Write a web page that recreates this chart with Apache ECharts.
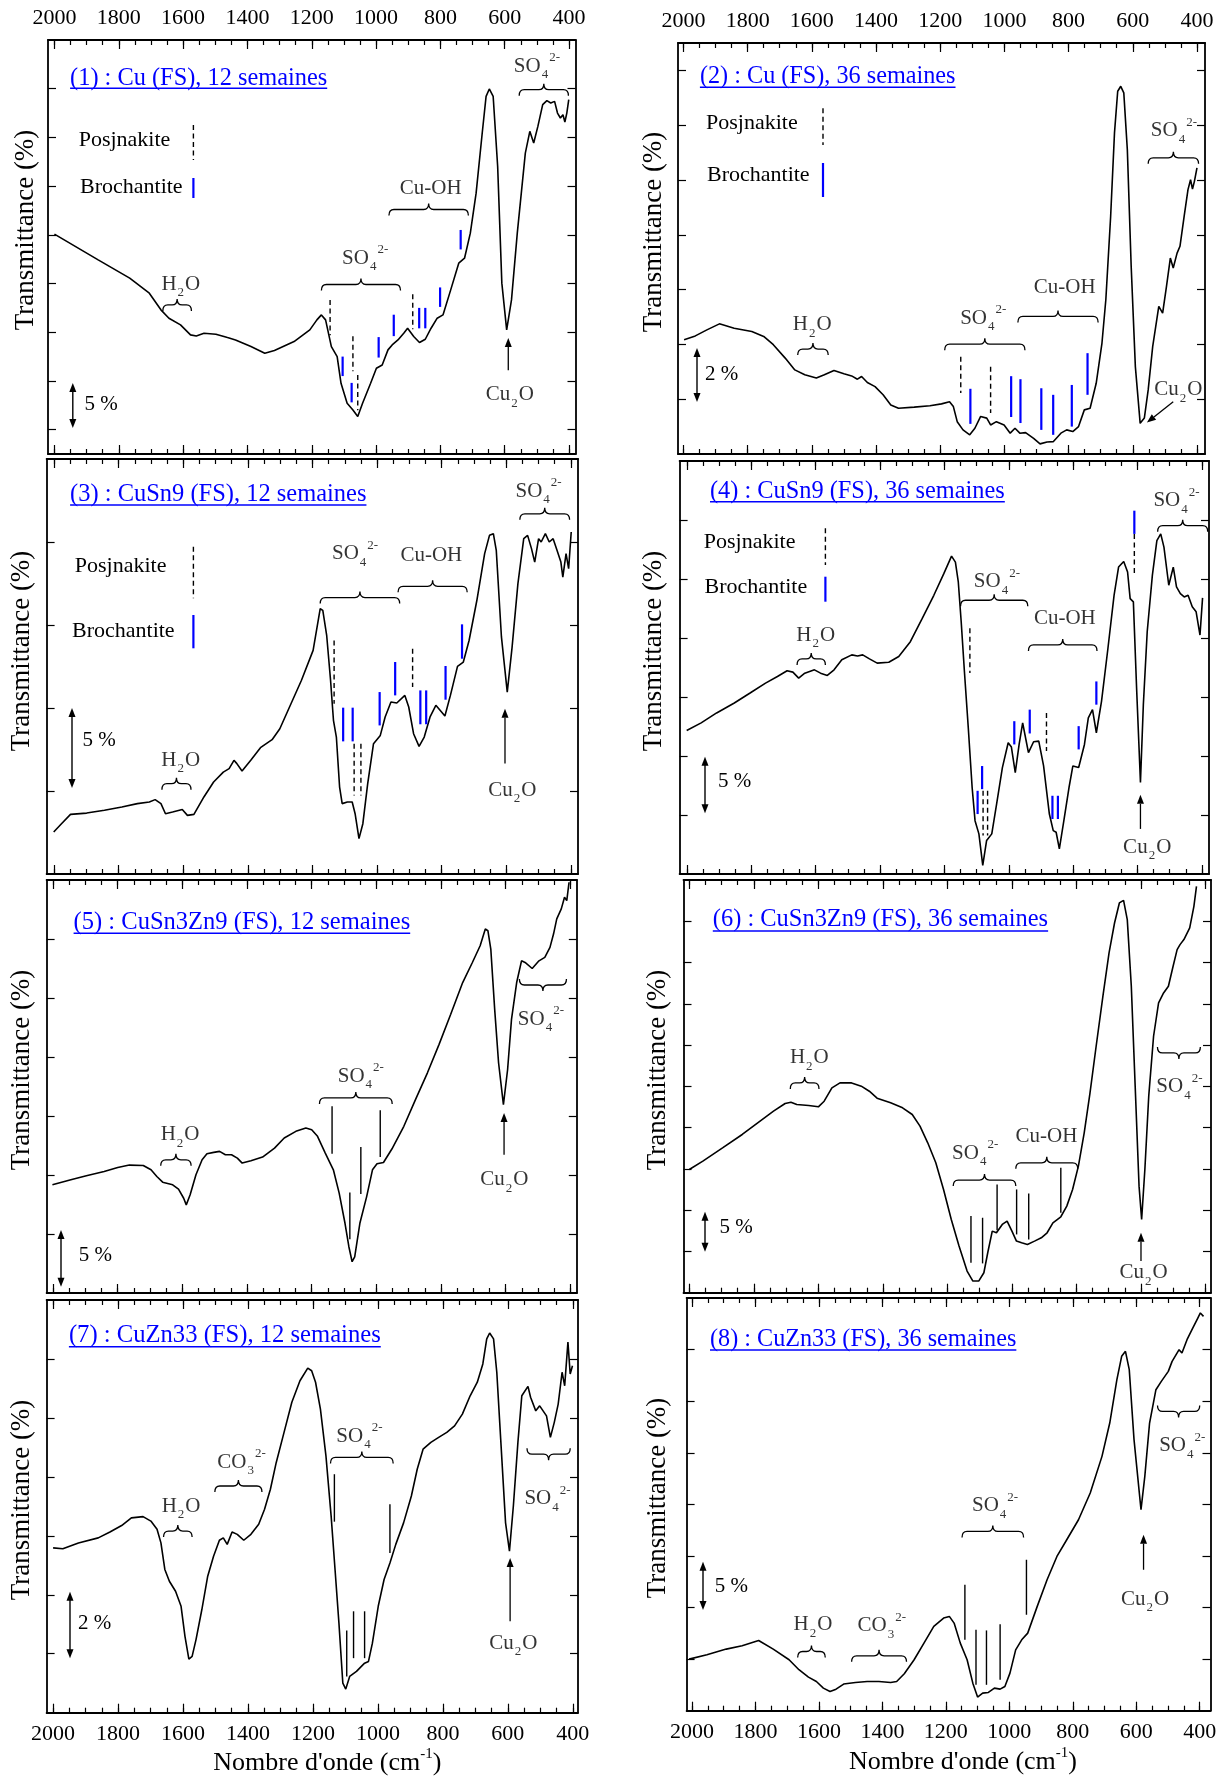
<!DOCTYPE html>
<html>
<head>
<meta charset="utf-8">
<script src="https://cdn.jsdelivr.net/npm/echarts@6/dist/echarts.min.js"></script>
<style>
html, body { margin: 0; padding: 0; background: #fff; }
#main { width: 1231px; height: 1778px; }
</style>
</head>
<body>
<div id="main"></div>
<script>
// wavenumber ticks (cm-1)
var wnMajor = [2000, 1800, 1600, 1400, 1200, 1000, 800, 600, 400];
var wnMinor = [2000, 1950, 1900, 1850, 1800, 1750, 1700, 1650, 1600, 1550, 1500, 1450, 1400, 1350, 1300, 1250, 1200,
	1150, 1100, 1050, 1000, 950, 900, 850, 800, 750, 700, 650, 600, 550, 500, 450, 400];

// (1) Cu (FS), 12 semaines  -- [wavenumber, transmittance %]
var p1Curve = [[2000,20.07],[1864,17.43],[1766,15.55],[1705,14.01],[1669,12.30],[1644,11.44],[1608,10.75],[1577,9.73],[1559,9.62],
	[1535,9.90],[1498,9.80],[1462,9.45],[1437,9.21],[1389,8.53],[1346,7.84],[1316,8.12],[1255,9.04],[1206,10.24],[1184,11.27],
	[1170,11.78],[1157,11.27],[1139,8.53],[1121,7.50],[1109,4.76],[1090,2.71],[1072,2.02],[1057,1.34],[1042,2.71],[1017,4.76],
	[999,6.30],[981,6.64],[963,8.19],[950,8.70],[932,9.21],[914,9.90],[902,10.41],[883,9.56],[865,8.94],[847,9.28],[829,10.41],
	[810,11.44],[792,11.78],[768,14.35],[743,17.09],[725,17.60],[707,20.17],[689,24.28],[670,30.45],[658,34.22],[648,34.97],
	[636,34.22],[622,27.02],[609,15.04],[594,10.24],[579,13.32],[561,20.17],[536,28.39],[522,30.62],[510,29.42],[497,31.13],
	[482,33.36],[469,33.77],[457,33.53],[445,33.70],[436,32.50],[427,31.99],[419,32.33],[413,31.58],[407,32.50],[401,33.87]];
var p1Posj = [[1143,13.3,9.7],[1072,9.6,6.0],[1057,5.6,2.0],[886,13.9,10.3]];
var p1Broch = [[1104,7.5,5.5],[1076,4.8,2.8],[992,9.5,7.4],[945,11.8,9.6],[866,12.5,10.4],[847,12.5,10.4],[801,14.6,12.6],[737,20.5,18.5]];
var p1Braces = [[1663,1574,12.8,1],[1170,924,14.9,1],[960,713,22.6,1],[555,402,34.9,1]];
var p1Labels = [[1607,14.9,'H2O'],[1034,17.6,'SO4'],[830,24.8,'CuOH'],[500,37.3,'SO4'],[584,3.6,'Cu2O']];
var p1Arrows = [[589,6.1,589,9.4]];

// (2) Cu (FS), 36 semaines
var p2Curve = [[1998,2.17],[1963,2.31],[1927,2.53],[1888,2.75],[1842,2.59],[1787,2.47],[1750,2.29],[1720,1.99],[1683,1.50],
	[1653,1.07],[1622,0.89],[1586,0.77],[1561,0.89],[1531,1.05],[1500,0.93],[1476,0.85],[1458,0.73],[1445,0.83],[1427,0.61],
	[1403,0.46],[1378,0.16],[1354,-0.21],[1330,-0.33],[1281,-0.29],[1232,-0.24],[1196,-0.17],[1171,-0.09],[1159,-0.27],
	[1147,-0.82],[1129,-1.12],[1108,-1.30],[1092,-1.06],[1074,-0.63],[1055,-0.69],[1043,-0.94],[1025,-0.82],[1001,-0.94],
	[982,-1.24],[967,-1.06],[952,-1.24],[934,-1.22],[909,-1.43],[889,-1.63],[867,-1.56],[848,-1.55],[824,-1.24],[806,-1.12],
	[787,-1.18],[769,-1.00],[751,-0.39],[733,-0.33],[714,0.58],[696,2.05],[684,3.63],[669,6.67],[657,9.72],[647,11.24],
	[637.5,11.42],[628,11.18],[617,9.11],[605,4.85],[592,1.19],[577,-0.88],[564,-0.69],[552,0.34],[538,1.92],[519,3.39],
	[507,3.14],[495,4.12],[483,5.15],[474,4.79],[462,5.33],[453,5.58],[440,6.67],[428,7.65],[420,8.01],[414,7.67],[408,7.95],[400,8.44]];
var p2Posj = [[1136,1.55,0.23],[1043,1.18,-0.50]];
var p2Broch = [[1106,0.38,-0.90],[979,0.84,-0.65],[950,0.73,-0.87],[885,0.40,-1.12],[848,0.16,-1.30],[790,0.52,-1.00],[741,1.68,0.16]];
var p2Braces = [[1644,1549,1.83,1],[1186,936,2.01,1],[958,708,3.02,1],[552,395,8.81,1]];
var p2Labels = [[1599,2.72,'H2O'],[1066,2.96,'SO4'],[812,4.06,'CuOH'],[472,9.80,'SO4'],[458,0.34,'Cu2O']];
var p2Arrows = [[474,-0.09,556,-0.85]];

// (3) CuSn9 (FS), 12 semaines
var p3Curve = [[2001,-2.47],[1977,-1.97],[1949,-1.41],[1899,-1.33],[1844,-1.16],[1790,-0.96],[1742,-0.76],[1705,-0.66],
	[1687,-0.52],[1669,-0.76],[1655,-1.37],[1633,-1.27],[1603,-1.12],[1587,-1.47],[1567,-1.41],[1536,-0.36],[1506,0.54],
	[1476,1.14],[1458,1.35],[1443,1.85],[1434,1.65],[1418,1.20],[1391,1.85],[1361,2.61],[1325,3.09],[1301,3.75],[1271,5.06],
	[1234,6.67],[1198,8.47],[1176,10.98],[1168,10.88],[1156,9.38],[1144,6.67],[1135,4.26],[1126,3.25],[1116,0.24],[1108,-0.76],
	[1092,-0.66],[1077,-0.66],[1068,-1.37],[1056,-2.87],[1044,-1.97],[1029,0.44],[1011,2.85],[990,3.35],[975,4.46],[957,5.36],
	[939,5.30],[914,5.76],[902,5.06],[887,3.45],[870,2.69],[854,3.25],[836,4.46],[818,5.16],[790,4.52],[773,5.76],[751,7.51],
	[733,7.77],[715,9.08],[691,11.49],[667,14.30],[652,15.40],[640,15.50],[631,14.50],[615,9.28],[597,5.96],[582,8.67],
	[564,12.49],[546,15.20],[534,15.40],[522,14.60],[512,13.79],[500,15.20],[492,15.00],[479,15.50],[467,15.00],[455,15.20],
	[443,14.50],[431,13.79],[425,12.89],[415,14.30],[407,13.39],[399,15.60]];
var p3Posj = [[1133,9.07,5.26],[1071,2.85,-0.27],[1050,2.85,-0.27],[890,8.57,6.27]];
var p3Broch = [[1105,5.02,2.99],[1075.5,5.02,2.99],[992,5.96,3.95],[944,7.77,5.76],[866,6.06,4.02],[848,6.06,4.02],[788,7.53,5.50],[737,10.04,7.97]];
var p3Braces = [[1666,1576,0.44,1],[1176,930,11.65,1],[935,721,12.33,1],[558,404,16.7,1]];
var p3Labels = [[1608,1.85,'H2O'],[1068,14.3,'SO4'],[832,14.2,'CuOH'],[500,18.07,'SO4'],[581,0.04,'Cu2O']];
var p3Arrows = [[604,1.65,604,4.96]];

// (4) CuSn9 (FS), 36 semaines
var p4Curve = [[2001,7.16],[1956,7.81],[1908,8.65],[1853,9.49],[1804,10.34],[1756,11.18],[1719,11.74],[1689,12.22],[1671,12.11],
	[1653,11.60],[1634,12.02],[1604,12.30],[1585,12.02],[1564,11.83],[1543,12.30],[1519,13.15],[1488,13.57],[1470,13.48],
	[1454,13.57],[1433,13.23],[1409,12.87],[1373,12.95],[1342,13.43],[1306,14.69],[1269,16.66],[1233,18.62],[1202,20.45],
	[1178,21.94],[1166,21.43],[1157,19.75],[1148,16.38],[1138,12.16],[1126,7.39],[1114,2.33],[1105,-0.48],[1093,-1.60],
	[1081,-4.27],[1069,-2.16],[1053,-1.60],[1038,0.93],[1020,4.02],[1002,6.12],[992,5.76],[980,3.60],[968,5.98],[957,7.81],
	[947,6.40],[939,5.28],[923,6.21],[907,6.26],[892,4.16],[874,0.08],[862,-1.32],[853,-1.46],[843,-2.87],[829,-0.48],
	[813,2.33],[801,4.16],[783,4.02],[765,5.98],[753,8.23],[740,8.93],[728,6.97],[712,9.63],[692,14.13],[673,18.62],
	[659,21.01],[643,21.49],[631,20.59],[623,18.34],[613,18.06],[603,10.76],[591,2.75],[582,9.35],[570,15.53],[554,20.31],
	[540,23.26],[528,23.82],[518,22.70],[503,19.47],[489,21.01],[479,19.33],[467,18.76],[455,18.48],[443,18.62],[430,17.64],
	[418,17.22],[406,15.25],[398,18.40]];
var p4Posj = [[1121,15.82,12.03],[1080,2.05,-1.74],[1066,2.05,-1.74],[883,8.65,5.42],[610,23.82,20.31]];
var p4Broch = [[1097,2.05,0.08],[1083,4.15,2.19],[983,7.95,5.98],[935,8.93,6.91],[864.5,1.63,-0.34],[847.5,1.63,-0.34],
	[783,7.53,5.56],[728,11.32,9.35],[610,25.79,23.82]];
var p4Braces = [[1658,1570,13.23,1],[1150,941,18.2,1],[939,726,14.41,1],[537.5,382,24.52,1]];
var p4Labels = [[1600,15.25,'H2O'],[1037,19.75,'SO4'],[826,16.66,'CuOH'],[479,26.63,'SO4'],[570,-2.72,'Cu2O']];
var p4Arrows = [[591,-1.18,591,1.71]];

// (5) CuSn3Zn9 (FS), 12 semaines
var p5Curve = [[2002,4.17],[1945,4.59],[1897,4.93],[1842,5.30],[1800,5.64],[1764,5.84],[1721,5.81],[1697,5.44],[1679,4.87],
	[1661,4.39],[1630,4.17],[1612,3.80],[1596,3.03],[1588,2.47],[1576,3.32],[1558,5.02],[1539,6.29],[1524,6.80],[1503,6.92],
	[1485,7.00],[1467,6.72],[1448,6.72],[1430,6.43],[1415,6.01],[1388,6.21],[1352,6.52],[1315,7.28],[1285,8.13],[1249,8.70],
	[1218,8.98],[1200,8.84],[1182,8.28],[1158,6.86],[1133,5.44],[1115,3.46],[1097,0.91],[1085,-1.08],[1075,-2.35],[1067,-1.93],
	[1051,0.91],[1030,3.17],[1012,5.44],[998,5.95],[978,6.06],[952,7.20],[915,9.13],[879,11.39],[842,13.66],[806,16.07],
	[770,18.62],[733,21.31],[703,23.01],[679,24.43],[663,25.85],[655,25.70],[646,24.15],[634,19.04],[622,14.51],[607,10.97],
	[594,13.94],[582,18.19],[566,21.31],[551,23.15],[540,23.01],[518,22.50],[497,23.15],[479,23.44],[463,24.29],[452,25.42],
	[442,26.70],[428,27.55],[418,28.54],[411,28.25],[404,29.81]];
var p5Marks = [[1137,10.83,6.80],[1082,3.51,-0.45],[1048,7.37,3.40],[988,10.49,6.52]];
var p5Braces = [[1667,1573,6.29,1],[1176,951,11.53,1],[557.6,412,21.1,-1]];
var p5Labels = [[1607,8.42,'H2O'],[1048,13.38,'SO4'],[491,18.19,'SO4'],[604,4.59,'Cu2O']];
var p5Arrows = [[605,6.72,605,10.26]];

// (6) CuSn3Zn9 (FS), 36 semaines
var p6Curve = [[2000,9.93],[1958,10.94],[1897,12.55],[1836,14.17],[1788,15.58],[1739,16.99],[1703,17.92],[1685,18.08],
	[1667,17.80],[1630,17.68],[1600,17.52],[1582,18.20],[1558,19.82],[1533,20.42],[1497,20.42],[1467,20.02],[1442,19.41],
	[1418,18.57],[1376,18.00],[1339,17.40],[1309,16.59],[1285,15.18],[1261,13.16],[1236,10.74],[1212,7.51],[1188,3.87],
	[1164,0.65],[1139,-2.38],[1121,-3.59],[1103,-3.59],[1087,-2.58],[1075,-0.16],[1061,2.46],[1048,2.26],[1030,3.27],
	[1015,3.67],[1000,2.46],[986,1.25],[970,1.05],[952,0.85],[930,1.25],[909,1.65],[891,2.26],[873,3.47],[848.5,4.20],
	[830,5.49],[812,7.51],[794,10.33],[776,14.37],[758,19.21],[739,24.86],[718,30.92],[699,36.16],[682,39.79],[667,42.22],
	[654,42.54],[642.5,40.20],[630,32.13],[618,20.02],[606,7.91],[598,3.87],[588,9.93],[576,18.81],[561,26.07],[545.5,30.11],
	[530,31.32],[515,32.13],[500.5,34.55],[488,36.57],[479,37.17],[467,37.78],[449,39.19],[436,41.81],[428,44.23]];
var p6Marks = [[1127,4.28,-1.37],[1091,4.08,-1.45],[1046,8.11,2.58],[985.5,7.51,2.06],[948,7.02,1.45],[848.5,10.13,4.68]];
var p6Braces = [[1687,1598,20.42,1],[1182,988,8.64,1],[988,796,10.74,1],[549,416,24.05,-1]];
var p6Labels = [[1628,23.45,'H2O'],[1114,11.87,'SO4'],[893,13.96,'CuOH'],[481,19.94,'SO4'],[592,-2.58,'Cu2O']];
var p6Arrows = [[600,-1.17,600,2.26]];

// (7) CuZn33 (FS), 12 semaines
var p7Curve = [[2000,3.59],[1970,3.56],[1922,3.76],[1861,3.93],[1825,4.13],[1789,4.35],[1759,4.61],[1723,4.65],[1699,4.50],
	[1680,4.22],[1668,3.76],[1656,2.86],[1642,2.46],[1623,2.12],[1606,1.61],[1594,0.59],[1582,-0.18],[1572,-0.09],[1560,0.48],
	[1542,1.50],[1524,2.63],[1506,3.31],[1488,3.85],[1476,3.93],[1464,3.71],[1449,4.13],[1433,4.05],[1413,3.85],[1391,4.05],
	[1367,4.39],[1349,4.90],[1331,5.58],[1313,6.49],[1289,7.51],[1265,8.53],[1240,9.26],[1216,9.69],[1204,9.60],[1192,9.21],
	[1177,8.30],[1160,6.71],[1144,4.67],[1132,2.86],[1120,1.04],[1108,-1.00],[1099,-1.20],[1087,-0.77],[1066,-0.60],
	[1041,-0.32],[1029,-0.26],[1017,0.36],[999,1.61],[981,2.52],[963,3.08],[945,3.71],[921,4.44],[897,5.35],[879,6.26],
	[861,6.94],[837,7.17],[813,7.34],[788,7.51],[764,7.73],[740,8.13],[716,8.75],[694,9.21],[677,9.83],[665,10.68],[656,10.88],
	[644,10.68],[634,9.55],[622,7.28],[607,4.44],[595,3.48],[583,5.01],[569,7.17],[557,8.75],[538,9.07],[530,8.70],[514,8.24],
	[502,8.41],[481,8.07],[469,7.34],[457,7.85],[445,8.47],[433,9.55],[425,9.09],[415,10.57],[408,9.49],[401,9.77]];
var p7Marks = [[1134,6.09,4.48],[1096,0.79,-0.77],[1075,1.44,-0.15],[1041,1.44,-0.15],[963,5.07,3.42]];
var p7Braces = [[1660,1572,4.16,1],[1502,1357,5.69,1],[1146,953,6.66,1],[541,408,6.77,-1]];
var p7Labels = [[1606,5.01,'H2O'],[1420,6.49,'CO3'],[1057,7.37,'SO4'],[478,5.26,'SO4'],[583,0.36,'Cu2O']];
var p7Arrows = [[593,1.10,593,3.25]];

// (8) CuZn33 (FS), 36 semaines
var p8Curve = [[2009,0],[1953,0.42],[1892,0.97],[1842,1.29],[1790,1.81],[1744,0.97],[1694,-0.06],[1663,-1.03],[1633,-1.75],
	[1608,-2.17],[1586,-2.81],[1565,-3.14],[1546,-2.91],[1522,-2.42],[1485,-2.26],[1448,-2.17],[1411,-2.17],[1374,-2.26],
	[1355,-2.17],[1331,-1.42],[1300,-0.06],[1269,1.55],[1238,3.17],[1207,3.98],[1189,4.14],[1174,3.49],[1154.5,1.55],
	[1133,-0.06],[1115,-2.33],[1100,-3.68],[1084,-3.30],[1066,-3.23],[1047,-2.81],[1029,-2.91],[1014,-2.65],[998,-1.36],
	[980,0.90],[961,1.87],[942,2.52],[912,5.11],[881,7.69],[850,9.95],[819,11.57],[782,13.51],[745,16.10],[708,19.65],
	[683.5,22.88],[661,27.08],[646,29.35],[634,29.83],[622,28.05],[607,21.27],[585,14.48],[573,17.71],[558,22.88],[538,26.11],
	[521,26.92],[499,27.89],[487,28.86],[465,29.99],[456,29.67],[440,30.96],[422,32.09],[406,33.06],[398,33.55],[388,33.22]];
var p8Marks = [[1140,7.21,1.87],[1105,2.84,-2.49],[1072,2.78,-2.49],[1029,3.39,-2.00],[946,9.63,4.30]];
var p8Braces = [[1667,1580,0.74,1],[1497,1324,0.32,1],[1149,955,12.38,1],[533,400,24.01,-1]];
var p8Labels = [[1619,3.33,'H2O'],[1402,3.23,'CO3'],[1045,14.87,'SO4'],[455,20.69,'SO4'],[572,5.82,'Cu2O']];
var p8Arrows = [[577,8.66,577,12.06]];

var FONT = "'Liberation Serif', 'Times New Roman', serif";
var BLUE = '#0000ff';

// panel layout (pixels)
var panels = [
	{ curve: p1Curve, posj: p1Posj, broch: p1Broch, braces: p1Braces, labels: p1Labels, arrows: p1Arrows,
	  box: [48, 40, 527.5, 414], x: [380, 2020], y: [-2.5, 40], yTicks: [0, 5, 10, 15, 20, 25, 30, 35], topLab: true,
	  title: '(1) : Cu (FS), 12 semaines', tpos: [70.1, 78.5, 88.3, 257.2],
	  leg: [[78.7, 140, 193.4, 125, 160], [80, 187.7, 193.4, 178, 198]],
	  bar: [72.8, 383, 428, 84.6, 404, '5 %'], ytl: [25.8, 230] },
	{ curve: p2Curve, posj: p2Posj, broch: p2Broch, braces: p2Braces, labels: p2Labels, arrows: p2Arrows,
	  box: [678, 43, 527, 411], x: [375, 2017], y: [-2, 13], yTicks: [0, 2, 4, 6, 8, 10, 12], topLab: true,
	  title: '(2) : Cu (FS), 36 semaines', tpos: [699.9, 76.5, 87.3, 255.7],
	  leg: [[706, 123.3, 823, 108.3, 145], [707, 175, 823, 163, 197]],
	  bar: [697, 348, 402, 705, 374, '2 %'], ytl: [654, 232] },
	{ curve: p3Curve, posj: p3Posj, broch: p3Broch, braces: p3Braces, labels: p3Labels, arrows: p3Arrows,
	  box: [46.6, 459, 531.4, 415], x: [378, 2023], y: [-5, 20], yTicks: [0, 5, 10, 15],
	  title: '(3) : CuSn9 (FS), 12 semaines', tpos: [70.1, 494.3, 505, 296.4],
	  leg: [[74.8, 566.7, 193.4, 546.7, 598.3], [72, 631, 193.4, 615, 648.3]],
	  bar: [72, 708, 788, 82.6, 740, '5 %'], ytl: [21.9, 651] },
	{ curve: p4Curve, posj: p4Posj, broch: p4Broch, braces: p4Braces, labels: p4Labels, arrows: p4Arrows,
	  box: [679.6, 461, 529.4, 413], x: [378, 2023], y: [-5, 30], yTicks: [0, 5, 10, 15, 20, 25],
	  title: '(4) : CuSn9 (FS), 36 semaines', tpos: [710, 491.7, 501.7, 295],
	  leg: [[703.8, 542.3, 825.4, 528.3, 565], [704.6, 587.7, 825.4, 576.7, 601.7]],
	  bar: [705, 756.7, 813.3, 718, 781, '5 %'], ytl: [654, 651] },
	{ curve: p5Curve, marks: p5Marks, braces: p5Braces, labels: p5Labels, arrows: p5Arrows,
	  box: [46.6, 880, 530.2, 413], x: [380, 2020], y: [-5, 30], yTicks: [0, 5, 10, 15, 20, 25],
	  title: '(5) : CuSn3Zn9 (FS), 12 semaines', tpos: [73.6, 922.7, 933.3, 336.8],
	  bar: [61, 1230, 1286.7, 78.7, 1255, '5 %'], ytl: [21.9, 1070] },
	{ curve: p6Curve, marks: p6Marks, braces: p6Braces, labels: p6Labels, arrows: p6Arrows,
	  box: [683.5, 880, 527.5, 412.7], x: [383, 2018], y: [-5, 45], yTicks: [0, 5, 10, 15, 20, 25, 30, 35, 40],
	  title: '(6) : CuSn3Zn9 (FS), 36 semaines', tpos: [712.8, 920, 931, 335.5],
	  bar: [705, 1211.7, 1251.7, 719.4, 1227.3, '5 %'], ytl: [658, 1070] },
	{ curve: p7Curve, marks: p7Marks, braces: p7Braces, labels: p7Labels, arrows: p7Arrows,
	  box: [46.6, 1300, 531.4, 412.7], x: [384, 2020], y: [-2, 12], yTicks: [0, 2, 4, 6, 8, 10], botLab: true,
	  title: '(7) : CuZn33 (FS), 12 semaines', tpos: [68.9, 1336, 1346.7, 312.1],
	  bar: [70, 1591.7, 1658.3, 78, 1623.3, '2 %'], ytl: [21.9, 1500], xtl: [327.3, 1763] },
	{ curve: p8Curve, marks: p8Marks, braces: p8Braces, labels: p8Labels, arrows: p8Arrows,
	  box: [686.6, 1298, 523.9, 412.7], x: [366, 2017], y: [-5, 35], yTicks: [0, 5, 10, 15, 20, 25, 30], botLab: true,
	  title: '(8) : CuZn33 (FS), 36 semaines', tpos: [710, 1340, 1350, 306.6],
	  bar: [703, 1561.7, 1610, 714.8, 1586.7, '5 %'], ytl: [658, 1498], xtl: [963, 1762] }
];

var richStyle = {
	n: { fontSize: 21, fontFamily: FONT, color: '#000', lineHeight: 30 },
	sub: { fontSize: 13, fontFamily: FONT, color: '#000', lineHeight: 14, verticalAlign: 'bottom', padding: [0, 1, 0, 1] },
	sup: { fontSize: 13, fontFamily: FONT, color: '#000', lineHeight: 14, verticalAlign: 'top' }
};
var labelText = {
	H2O: '{n|H}{sub|2}{n|O}',
	Cu2O: '{n|Cu}{sub|2}{n|O}',
	SO4: '{n|SO}{sub|4}{sup|2-}',
	CO3: '{n|CO}{sub|3}{sup|2-}',
	CuOH: '{n|Cu-OH}'
};

var measureCtx = document.createElement('canvas').getContext('2d');
function textWidth(txt, size) {
	measureCtx.font = size + 'px ' + FONT;
	return measureCtx.measureText(txt).width;
}

function vlines(xi, yi, data, color, width, dash) {
	return {
		type: 'custom', xAxisIndex: xi, yAxisIndex: yi, data: data, silent: true, z: 4,
		renderItem: function (params, api) {
			var a = api.coord([api.value(0), api.value(1)]);
			var b = api.coord([api.value(0), api.value(2)]);
			var st = { stroke: color, lineWidth: width };
			if (dash) st.lineDash = dash;
			return { type: 'line', shape: { x1: a[0], y1: a[1], x2: b[0], y2: b[1] }, style: st };
		}
	};
}

function braceSeries(xi, yi, data) {
	return {
		type: 'custom', xAxisIndex: xi, yAxisIndex: yi, data: data, silent: true, z: 4,
		renderItem: function (params, api) {
			var p1 = api.coord([api.value(0), api.value(2)]);
			var p2 = api.coord([api.value(1), api.value(2)]);
			var d = api.value(3);
			var x1 = Math.min(p1[0], p2[0]), x2 = Math.max(p1[0], p2[0]), y = p1[1], m = (x1 + x2) / 2;
			var h = 6 * d, r = 5;
			var path = 'M' + x1 + ' ' + (y + h) + ' Q' + x1 + ' ' + y + ' ' + (x1 + r) + ' ' + y +
				' L' + (m - r) + ' ' + y + ' Q' + m + ' ' + y + ' ' + m + ' ' + (y - h) +
				' Q' + m + ' ' + y + ' ' + (m + r) + ' ' + y + ' L' + (x2 - r) + ' ' + y +
				' Q' + x2 + ' ' + y + ' ' + x2 + ' ' + (y + h);
			return { type: 'path', shape: { pathData: path }, style: { fill: null, stroke: '#000', lineWidth: 1.3 } };
		}
	};
}

function arrowSeries(xi, yi, data) {
	return {
		type: 'custom', xAxisIndex: xi, yAxisIndex: yi, data: data, silent: true, z: 4,
		renderItem: function (params, api) {
			var a = api.coord([api.value(0), api.value(1)]);
			var b = api.coord([api.value(2), api.value(3)]);
			var dx = b[0] - a[0], dy = b[1] - a[1], len = Math.sqrt(dx * dx + dy * dy);
			var ux = dx / len, uy = dy / len, hl = 9, hw = 3.5;
			var bx = b[0] - ux * hl, by = b[1] - uy * hl;
			return {
				type: 'group', children: [
					{ type: 'line', shape: { x1: a[0], y1: a[1], x2: bx, y2: by }, style: { stroke: '#000', lineWidth: 1.3 } },
					{ type: 'polygon', shape: { points: [[b[0], b[1]], [bx - uy * hw, by + ux * hw], [bx + uy * hw, by - ux * hw]] },
					  style: { fill: '#000' } }
				]
			};
		}
	};
}

var grids = [], xAxes = [], yAxes = [], series = [], graphics = [];

panels.forEach(function (p, i) {
	grids.push({ left: p.box[0], top: p.box[1], width: p.box[2], height: p.box[3], containLabel: false, outerBoundsMode: 'none' });
	['bottom', 'top'].forEach(function (pos) {
		var showLab = (pos === 'top' && p.topLab) || (pos === 'bottom' && p.botLab);
		xAxes.push({
			gridIndex: i, type: 'value', position: pos, inverse: true, min: p.x[0], max: p.x[1],
			axisLine: { show: true, onZero: false, lineStyle: { color: '#000', width: 1.8 } },
			axisTick: { show: true, inside: true, length: 5, customValues: wnMinor, lineStyle: { color: '#000', width: 1.2 } },
			axisLabel: { show: false }, splitLine: { show: false }
		});
		xAxes.push({
			gridIndex: i, type: 'value', position: pos, inverse: true, min: p.x[0], max: p.x[1],
			axisLine: { show: false, onZero: false },
			axisTick: { show: true, inside: true, length: 9, customValues: wnMajor, lineStyle: { color: '#000', width: 1.2 } },
			axisLabel: { show: !!showLab, customValues: wnMajor, margin: 11, fontSize: 22, fontFamily: FONT, color: '#000',
				formatter: function (v) { return String(v); } },
			splitLine: { show: false }
		});
	});
	['left', 'right'].forEach(function (pos) {
		yAxes.push({
			gridIndex: i, type: 'value', position: pos, min: p.y[0], max: p.y[1],
			axisLine: { show: true, onZero: false, lineStyle: { color: '#000', width: 1.8 } },
			axisTick: { show: true, inside: true, length: 8, customValues: p.yTicks, lineStyle: { color: '#000', width: 1.2 } },
			axisLabel: { show: false }, splitLine: { show: false }
		});
	});
	var xi = i * 4, yi = i * 2;
	series.push({
		type: 'line', xAxisIndex: xi, yAxisIndex: yi, data: p.curve, symbol: 'none', showSymbol: false,
		lineStyle: { color: '#000', width: 1.6 }, silent: true, z: 3
	});
	if (p.posj) series.push(vlines(xi, yi, p.posj, '#000', 1.4, [5, 3.5]));
	if (p.broch) series.push(vlines(xi, yi, p.broch, BLUE, 2.2));
	if (p.marks) series.push(vlines(xi, yi, p.marks, '#000', 1.4));
	series.push(braceSeries(xi, yi, p.braces));
	series.push(arrowSeries(xi, yi, p.arrows));
	series.push({
		type: 'scatter', xAxisIndex: xi, yAxisIndex: yi, symbolSize: 0, silent: true, z: 5,
		data: p.labels.map(function (l) { return { value: [l[0], l[1]], name: l[2] }; }),
		label: { show: true, position: 'inside', formatter: function (q) { return labelText[q.name]; }, rich: richStyle }
	});

	// title with underline
	var fs = 22 * p.tpos[3] / textWidth(p.title, 22);
	fs = Math.max(20, Math.min(26, fs));
	var tw = textWidth(p.title, fs);
	graphics.push({ type: 'text', x: p.tpos[0], y: p.tpos[1], silent: true,
		style: { text: p.title, font: fs + 'px ' + FONT, fill: BLUE, align: 'left', verticalAlign: 'middle' } });
	graphics.push({ type: 'line', silent: true, shape: { x1: p.tpos[0], y1: p.tpos[2], x2: p.tpos[0] + tw, y2: p.tpos[2] },
		style: { stroke: BLUE, lineWidth: 1.5 } });

	// legend for posjnakite / brochantite
	if (p.leg) {
		var names = ['Posjnakite', 'Brochantite'];
		p.leg.forEach(function (lg, k) {
			graphics.push({ type: 'text', x: lg[0], y: lg[1], silent: true,
				style: { text: names[k], font: '22px ' + FONT, fill: '#000', align: 'left', verticalAlign: 'middle' } });
			graphics.push({ type: 'line', silent: true, shape: { x1: lg[2], y1: lg[3], x2: lg[2], y2: lg[4] },
				style: k === 0 ? { stroke: '#000', lineWidth: 1.4, lineDash: [5, 3.5] } : { stroke: BLUE, lineWidth: 2.2 } });
		});
	}

	// scale bar
	var b = p.bar;
	graphics.push({ type: 'line', silent: true, shape: { x1: b[0], y1: b[1] + 6, x2: b[0], y2: b[2] - 6 },
		style: { stroke: '#000', lineWidth: 1.4 } });
	graphics.push({ type: 'polygon', silent: true, shape: { points: [[b[0], b[1]], [b[0] - 3.5, b[1] + 9], [b[0] + 3.5, b[1] + 9]] },
		style: { fill: '#000' } });
	graphics.push({ type: 'polygon', silent: true, shape: { points: [[b[0], b[2]], [b[0] - 3.5, b[2] - 9], [b[0] + 3.5, b[2] - 9]] },
		style: { fill: '#000' } });
	graphics.push({ type: 'text', x: b[3], y: b[4], silent: true,
		style: { text: b[5], font: '21px ' + FONT, fill: '#000', align: 'left', verticalAlign: 'middle' } });

	// y axis title
	graphics.push({ type: 'text', x: p.ytl[0], y: p.ytl[1], rotation: Math.PI / 2, silent: true,
		style: { text: 'Transmittance (%)', font: '27px ' + FONT, fill: '#000', align: 'center', verticalAlign: 'middle' } });

	// x axis title
	if (p.xtl) {
		graphics.push({ type: 'text', x: p.xtl[0], y: p.xtl[1], silent: true,
			style: {
				text: "{n|Nombre d'onde (cm}{sup|-1}{n|)}", align: 'center', verticalAlign: 'middle',
				rich: {
					n: { fontSize: 26, fontFamily: FONT, fill: '#000', lineHeight: 32 },
					sup: { fontSize: 15, fontFamily: FONT, fill: '#000', lineHeight: 16, verticalAlign: 'top' }
				}
			} });
	}
});

var chart = echarts.init(document.getElementById('main'));
chart.setOption({
	animation: false,
	backgroundColor: '#fff',
	grid: grids,
	xAxis: xAxes,
	yAxis: yAxes,
	series: series,
	graphic: { elements: graphics }
});
</script>
</body>
</html>
